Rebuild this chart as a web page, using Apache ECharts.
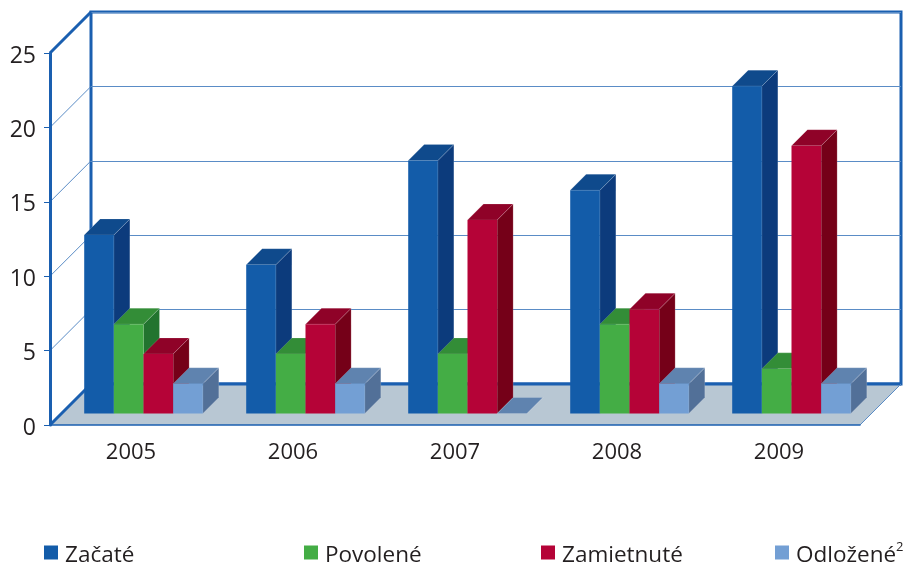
<!DOCTYPE html>
<html lang="sk">
<head>
    <meta charset="UTF-8">
    <title>Začaté, povolené, zamietnuté a odložené</title>
    <script src="https://cdn.jsdelivr.net/npm/echarts@6/dist/echarts.min.js"></script>
    <style>
        body, html { margin: 0; padding: 0; width: 100%; height: 100%; overflow: hidden; background: #fff; }
        #chart { width: 907px; height: 566px; }
    </style>
</head>
<body>
    <div id="chart"></div>
    <script>
        var years = ['2005', '2006', '2007', '2008', '2009'];
        var zacate = [12, 10, 17, 15, 22];
        var povolene = [6, 4, 4, 6, 3];
        var zamietnute = [4, 6, 13, 7, 18];
        var odlozene = [2, 2, 0, 2, 2];
        var yMax = 25;
        var yStep = 5;
        var wallLevels = [5, 10, 15, 20];

        var names = ['Začaté', 'Povolené', 'Zamietnuté', 'Odložené'];
        var values = [zacate, povolene, zamietnute, odlozene];
        // front, top, side
        var shades = [
            ['#135ca9', '#0f4a8c', '#0c3b7c'],
            ['#44ad45', '#338d37', '#22742f'],
            ['#b50337', '#8f0228', '#750018'],
            ['#739fd4', '#5f83af', '#527098']
        ];
        var legendLeft = [44, 304, 541, 775];

        var axisBlue = '#1a5fb0';
        var thinBlue = '#5a8cc6';
        var textColor = '#231f20';
        var fontName = '"Open Sans", sans-serif';
        var wallDx = 41, wallDy = -41;   // front plane to back wall
        var barDx = 12.5, barDy = -11.5; // front plane to front of the bars
        var barDepth = 16;

        function barItem(s) {
            return function (params, api) {
                var i = api.value(0);
                var base = api.coord([i, 0]);
                var head = api.coord([i, api.value(1)]);
                var w = api.size([1, 0])[0] * 0.183;
                var x0 = base[0] + barDx - 2 * w + s * w;
                var x1 = x0 + w;
                var yb = base[1] + barDy;
                var yt = head[1] + barDy;
                var edge = { stroke: 'rgba(255,255,255,0.22)', lineWidth: 0.7 };
                return {
                    type: 'group',
                    children: [
                        { type: 'polygon', shape: { points: [[x1, yt], [x1 + barDepth, yt - barDepth], [x1 + barDepth, yb - barDepth], [x1, yb]] },
                          style: Object.assign({ fill: shades[s][2] }, edge) },
                        { type: 'polygon', shape: { points: [[x0, yt], [x1, yt], [x1 + barDepth, yt - barDepth], [x0 + barDepth, yt - barDepth]] },
                          style: Object.assign({ fill: shades[s][1] }, edge) },
                        { type: 'rect', shape: { x: x0, y: yt, width: w, height: yb - yt }, style: { fill: shades[s][0] } }
                    ]
                };
            };
        }

        function floorItem(params, api) {
            var r = params.coordSys;
            var xl = r.x, xr = r.x + r.width, y = r.y + r.height;
            return {
                type: 'group',
                children: [
                    { type: 'polygon', shape: { points: [[xl, y], [xl + wallDx, y + wallDy], [xr + wallDx, y + wallDy], [xr, y]] }, style: { fill: '#b8c7d3' } },
                    { type: 'line', shape: { x1: xl + wallDx, y1: y + wallDy, x2: xr + wallDx, y2: y + wallDy }, style: { stroke: axisBlue, lineWidth: 3 } },
                    { type: 'line', shape: { x1: xr, y1: y, x2: xr + wallDx, y2: y + wallDy }, style: { stroke: thinBlue, lineWidth: 1 } }
                ]
            };
        }

        function sideLineItem(params, api) {
            var v = api.value(0);
            var p = api.coord([0, v]);
            var x = params.coordSys.x;
            var heavy = v === 0 || v === yMax;
            return {
                type: 'line',
                shape: { x1: x, y1: p[1], x2: x + wallDx, y2: p[1] + wallDy },
                style: { stroke: heavy ? axisBlue : thinBlue, lineWidth: heavy ? 3 : 1 }
            };
        }

        var series = [
            { type: 'custom', xAxisIndex: 0, yAxisIndex: 0, z: 1, silent: true, clip: false, data: [[0]], renderItem: floorItem },
            { type: 'custom', xAxisIndex: 0, yAxisIndex: 0, z: 2, silent: true, clip: false,
              data: [0].concat(wallLevels, [yMax]).map(function (v) { return [v]; }), renderItem: sideLineItem }
        ];
        names.forEach(function (n, s) {
            series.push({
                type: 'custom', name: n, xAxisIndex: 0, yAxisIndex: 0, z: 3, clip: false,
                itemStyle: { color: shades[s][0] },
                data: values[s].map(function (v, i) { return [i, v]; }),
                renderItem: barItem(s)
            });
        });

        var legends = names.map(function (n, s) {
            return {
                left: legendLeft[s], top: 538, padding: 0, icon: 'rect', itemWidth: 14, itemHeight: 14, itemGap: 0,
                selectedMode: false, data: [n],
                formatter: n === 'Odložené' ? '{b|' + n + '}{sup|2}' : '{b|' + n + '}',
                textStyle: {
                    color: textColor, fontFamily: fontName, fontSize: 22, padding: [0, 0, 0, 2],
                    rich: {
                        b: { fontSize: 22.5, fontFamily: fontName, color: textColor, lineHeight: 24, padding: [6, 0, 0, 0] },
                        sup: { fontSize: 13, fontFamily: fontName, color: textColor, lineHeight: 24, verticalAlign: 'top', padding: [0, 0, 6, 0] }
                    }
                }
            };
        });

        var chart = echarts.init(document.getElementById('chart'), null, { renderer: 'canvas' });
        chart.setOption({
            animation: false,
            backgroundColor: '#fff',
            legend: legends,
            grid: [
                { left: 50, top: 53, width: 810, height: 372 },
                { left: 91, top: 12, width: 810, height: 372, show: true, borderColor: axisBlue, borderWidth: 3, backgroundColor: 'transparent' }
            ],
            xAxis: [
                { type: 'category', gridIndex: 0, data: years, z: 5,
                  axisLine: { lineStyle: { color: axisBlue, width: 1.5 } },
                  axisTick: { length: 6, lineStyle: { color: thinBlue } },
                  axisLabel: { color: textColor, fontFamily: fontName, fontSize: 22, margin: 17 } },
                { type: 'category', gridIndex: 1, data: years, show: false }
            ],
            yAxis: [
                { type: 'value', gridIndex: 0, min: 0, max: yMax, interval: yStep, z: 5,
                  splitLine: { show: false },
                  axisLine: { show: true, lineStyle: { color: axisBlue, width: 3 } },
                  axisTick: { show: true, length: 6, lineStyle: { color: axisBlue } },
                  axisLabel: { color: textColor, fontFamily: fontName, fontSize: 23, margin: 14, verticalAlign: 'top', lineHeight: 6 } },
                { type: 'value', gridIndex: 1, min: 0, max: yMax, interval: yStep,
                  axisLine: { show: false }, axisTick: { show: false }, axisLabel: { show: false },
                  splitLine: { lineStyle: { color: thinBlue, width: 1 } } }
            ],
            series: series
        });
    </script>
</body>
</html>
